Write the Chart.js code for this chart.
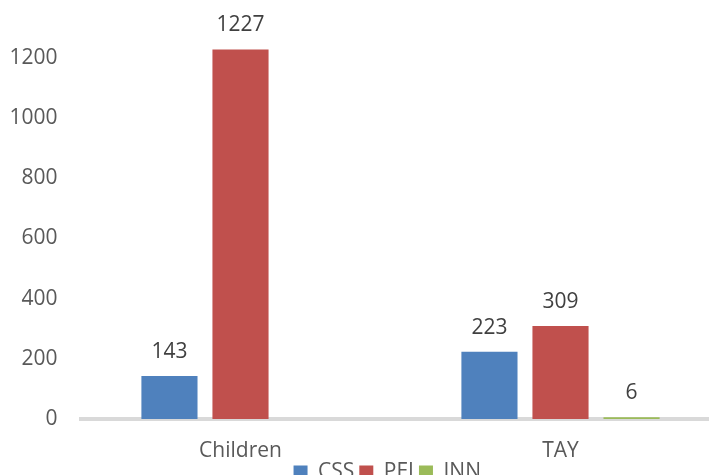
<!DOCTYPE html>
<html>
<head>
<meta charset="utf-8">
<script src="https://cdn.jsdelivr.net/npm/chart.js@4.4.0/dist/chart.umd.min.js"></script>
<style>
  html, body { margin: 0; padding: 0; background: #fff; overflow: hidden; }
  #wrap { width: 709px; height: 475px; overflow: hidden; position: relative; }
  #barChart { position: absolute; left: 0; top: 0; }
</style>
</head>
<body>
<div id="wrap">
  <canvas id="barChart" width="774" height="493"></canvas>
</div>
<script>
// chart values
var categories = ['Children', 'TAY'];
var seriesNames = ['CSS', 'PEI', 'INN'];
var cssValues = [143, 223];
var peiValues = [1227, 309];
var innValues = [null, 6];
var colors = ['#4F81BD', '#C0504D', '#9BBB59'];
var yTicksShown = [0, 200, 400, 600, 800, 1000, 1200];

Chart.defaults.font.family = '"Open Sans", sans-serif';
Chart.defaults.font.size = 21;
Chart.defaults.color = '#595959';

// value labels above bars
var barLabels = {
  id: 'barLabels',
  afterLayout: function (chart) {
    // excel centres the legend a bit to the right of the plot
    chart.legend.left += 27;
    chart.legend.right += 27;
  },
  afterDatasetsDraw: function (chart) {
    var c = chart.ctx;
    c.save();
    c.font = '21px "Open Sans", sans-serif';
    c.fillStyle = '#404040';
    c.textAlign = 'center';
    c.textBaseline = 'middle';
    chart.data.datasets.forEach(function (ds, i) {
      chart.getDatasetMeta(i).data.forEach(function (bar, j) {
        if (ds.data[j] == null) return;
        c.fillText(ds.data[j], bar.x, bar.y - 24);
      });
    });
    c.restore();
  }
};

var ctx = document.getElementById('barChart').getContext('2d');
var barChart = new Chart(ctx, {
  type: 'bar',
  data: {
    labels: categories,
    datasets: [
      { label: seriesNames[0], data: cssValues, backgroundColor: colors[0] },
      { label: seriesNames[1], data: peiValues, backgroundColor: colors[1] },
      { label: seriesNames[2], data: innValues, backgroundColor: colors[2] }
    ]
  },
  options: {
    responsive: false,
    animation: false,
    datasets: {
      bar: { categoryPercentage: 0.666, barPercentage: 0.79 }
    },
    layout: { padding: { left: 0, right: 53.5, top: 0, bottom: 0 } },
    plugins: {
      tooltip: { enabled: false },
      legend: {
        position: 'bottom',
        labels: { boxWidth: 14, boxHeight: 14, padding: 5, color: '#595959' }
      }
    },
    scales: {
      x: {
        z: 1,
        clip: false,
        grid: { display: false, drawTicks: false },
        border: { display: true, color: '#D9D9D9', width: 4 },
        ticks: { padding: 19, color: '#595959' },
        afterFit: function (s) { s.height = 38; }
      },
      y: {
        min: 0,
        max: 1273,
        grid: { display: false, drawTicks: false },
        border: { display: false },
        ticks: {
          padding: 23,
          color: '#595959',
          autoSkip: false,
          callback: function (v) { return String(v); }
        },
        afterBuildTicks: function (s) {
          s.ticks = yTicksShown.map(function (v) { return { value: v }; });
        },
        afterFit: function (s) { s.width = 80.5; }
      }
    }
  },
  plugins: [barLabels]
});
</script>
</body>
</html>
